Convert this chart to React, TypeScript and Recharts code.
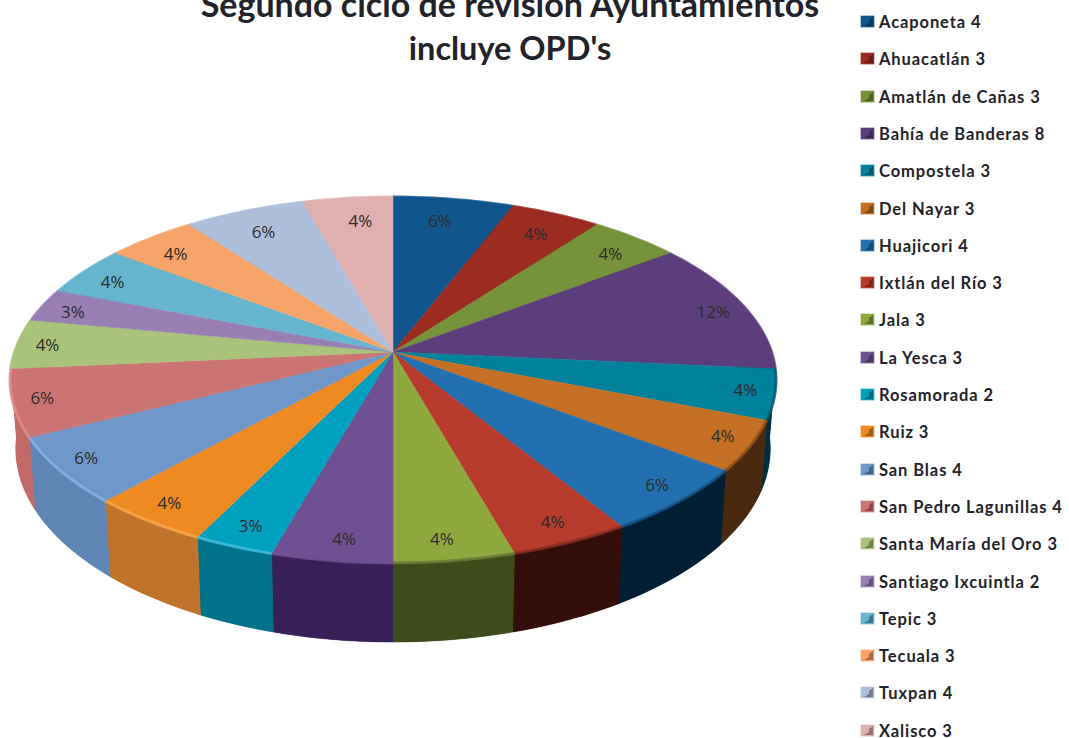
import React from "react";
import { PieChart, Pie, Legend } from "recharts";

const municipios = ["Acaponeta","Ahuacatlán","Amatlán de Cañas","Bahía de Banderas","Compostela","Del Nayar","Huajicori","Ixtlán del Río","Jala","La Yesca","Rosamorada","Ruiz","San Blas","San Pedro Lagunillas","Santa María del Oro","Santiago Ixcuintla","Tepic","Tecuala","Tuxpan","Xalisco"];
const revisiones = [4,3,3,8,3,3,4,3,3,3,2,3,4,4,3,2,3,3,4,3];
const topColors = ["#10568c","#9c2b22","#76923a","#5c3e7d","#00829c","#c46f24","#2370b0","#b83c2d","#8fa93f","#6f5092","#00a0c0","#ef8a22","#6f97c9","#cc7373","#a9c47a","#9a7fb5","#66b5cf","#f7a46a","#aebfdc","#e0b0b0"];
const wallColors = ["#062a44","#3c0f0c","#30401a","#1e1035","#00303f","#4a2a10","#001f33","#320d0a","#3e4c1c","#3a2058","#00728a","#c0732a","#5f86b4","#c26a6a","#c26a6a","#75588f","#4a93ad","#c97f4a","#8a9dbd","#b78a8a"];
const rimColors = ["#10568c","#9c2b22","#76923a","#5c3e7d","#005a70","#8a4f1c","#164f80","#7f2a20","#67793a","#6f5092","#45bfdc","#fba64c","#8ab4e4","#e09090","#a9c47a","#9a7fb5","#66b5cf","#f7a46a","#aebfdc","#e0b0b0"];

const data = municipios.map((name, i) => ({ name, value: revisiones[i] }));

const CX = 393, CY = 352, RADIUS = 378.5, TILT = 0.472, PERSP = 0.153, DEPTH = 67, TAPER = 0.985;
const rad = (a: number) => (a * Math.PI) / 180;

// Tilted, perspective projection of a pie-angle (recharts degrees) on the rim.
function rim(angle: number, cx: number, cy: number, r: number, lower = false) {
  const t = rad(90 - angle);
  const w = 1 + PERSP * Math.cos(t);
  const x = (r * Math.sin(t)) / w;
  const y = (-r * TILT * Math.cos(t)) / w;
  if (!lower) return { x: cx + x, y: cy + y };
  return { x: cx + x * TAPER, y: cy + y + DEPTH / w };
}
function arc(a0: number, a1: number, cx: number, cy: number, r: number, lower = false) {
  const n = Math.max(6, Math.ceil(Math.abs(a1 - a0) / 1.5));
  const pts: string[] = [];
  for (let i = 0; i <= n; i++) {
    const p = rim(a0 + ((a1 - a0) * i) / n, cx, cy, r, lower);
    pts.push(`${p.x.toFixed(2)} ${p.y.toFixed(2)}`);
  }
  return pts;
}

const TopSlice = (p: any) => {
  const pts = arc(p.startAngle, p.endAngle, p.cx, p.cy, p.outerRadius);
  const i = municipios.indexOf(p.name);
  return (
    <g>
      <path d={`M${p.cx} ${p.cy}L${pts.join("L")}Z`} fill={topColors[i]} stroke={topColors[i]} strokeWidth={0.5} />
      <path d={`M${pts.join("L")}`} fill="none" stroke={rimColors[i]} strokeWidth={3} opacity={0.8} />
    </g>
  );
};
const WallSlice = (p: any) => {
  const i = municipios.indexOf(p.name);
  const up = arc(p.startAngle, p.endAngle, p.cx, p.cy, p.outerRadius);
  const low = arc(p.endAngle, p.startAngle, p.cx, p.cy, p.outerRadius, true);
  const id = `wall-${i}`;
  return (
    <g>
      <defs>
        <linearGradient id={id} x1="0" y1="0" x2="1" y2="0">
          <stop offset="0" stopColor={wallColors[i]} />
          <stop offset="1" stopColor={wallColors[i]} stopOpacity={0.88} />
        </linearGradient>
      </defs>
      <path d={`M${up.join("L")}L${low.join("L")}Z`} fill={wallColors[i]} stroke={wallColors[i]} strokeWidth={0.5} />
      <path d={`M${up.join("L")}L${low.join("L")}Z`} fill={`url(#${id})`} />
    </g>
  );
};
const PctLabel = (p: any) => {
  const e = rim(p.midAngle, p.cx, p.cy, p.outerRadius);
  const t = rad(90 - p.midAngle);
  const s = Math.sin(t);
  return (
    <text x={e.x - Math.sign(s) * (10 + 20 * Math.abs(s))} y={e.y + 22 * Math.cos(t)} textAnchor="middle" dominantBaseline="central"
      fontFamily="'Open Sans'" fontSize={17} fill="#2b2b2b">
      {`${Math.round(p.percent * 100)}%`}
    </text>
  );
};

const LegendIcon = ({ color }: { color: string }) => (
  <svg width={15} height={14} style={{ position: "absolute", left: 0, top: 0 }}>
    <rect x={0.5} y={0.5} width={14} height={12} fill={color} />
    <polygon points="13,2 9,5 9,8 4,11 13,11" fill="#000" opacity={0.35} />
    <rect x={0.5} y={0.5} width={14} height={12} fill="none" stroke="#fff" strokeOpacity={0.35} />
  </svg>
);
const LegendRows = () => (
  <div style={{ position: "relative", width: 209, height: 738 }}>
    {municipios.map((name, i) => (
      <div key={name} style={{ position: "absolute", left: 0, top: 15 + i * 37.3, height: 14 }}>
        <LegendIcon color={topColors[i]} />
        <span style={{ position: "absolute", left: 19, top: 0, whiteSpace: "nowrap", fontFamily: "Lato", fontWeight: 700, fontSize: 16.5, letterSpacing: 0.9, lineHeight: "14px", color: "#22222a" }}>
          {`${name} ${revisiones[i]}`}
        </span>
      </div>
    ))}
  </div>
);

export default function App() {
  return (
    <div style={{ position: "absolute", left: 0, top: 0, width: 1069, height: 738, background: "#fff", overflow: "hidden" }}>
      <PieChart width={1069} height={738} margin={{ top: 0, right: 0, bottom: 0, left: 0 }}>
        <Pie data={data} dataKey="value" nameKey="name" cx={CX} cy={CY} outerRadius={RADIUS} startAngle={90} endAngle={-270}
          isAnimationActive={false} shape={WallSlice} label={false} labelLine={false} legendType="none" stroke="none" />
        <Pie data={data} dataKey="value" nameKey="name" cx={CX} cy={CY} outerRadius={RADIUS} startAngle={90} endAngle={-270}
          isAnimationActive={false} shape={TopSlice} label={PctLabel} labelLine={false} stroke="none" />
        <Legend content={LegendRows} wrapperStyle={{ position: "absolute", left: 860, top: 0, width: 209, height: 738, bottom: "auto" }} />
        <text x={510} y={17} textAnchor="middle" fontFamily="Lato" fontWeight={700} fontSize={34} fill="#22222a">Segundo ciclo de revisión Ayuntamientos</text>
        <text x={510} y={60} textAnchor="middle" fontFamily="Lato" fontWeight={700} fontSize={32.5} fill="#22222a">incluye OPD's</text>
      </PieChart>
    </div>
  );
}
